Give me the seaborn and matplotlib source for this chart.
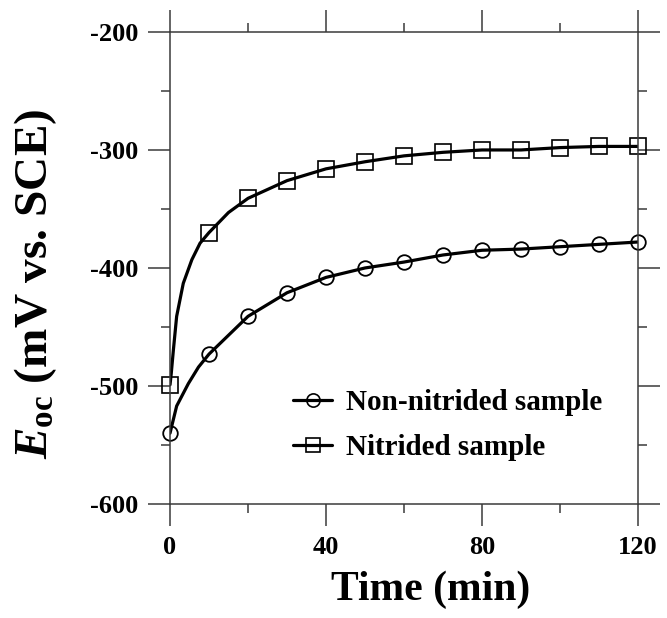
import numpy as np
import pandas as pd
import matplotlib
matplotlib.use("Agg")
import matplotlib.pyplot as plt
from matplotlib.lines import Line2D
from matplotlib.ticker import MultipleLocator
import seaborn as sns

# Marker points (every 10 min)
time_min = [0, 10, 20, 30, 40, 50, 60, 70, 80, 90, 100, 110, 120]
non_nitrided = [-540, -473, -441, -421, -408, -400, -395, -389, -385, -384, -382, -380, -378]
nitrided = [-499, -370, -341, -326, -316, -310, -305, -302, -300, -300, -298, -297, -297]

# Continuous curves (extra points near the start)
non_nitrided_curve_t = [0, 1.7, 4.7, 7.3, 10, 20, 30, 40, 50, 60, 70, 80, 90, 100, 110, 120]
non_nitrided_curve_e = [-540, -517, -498, -484, -473, -441, -421, -408, -400, -395, -389, -385, -384, -382, -380, -378]
nitrided_curve_t = [0, 0.3, 0.85, 1.7, 3.4, 5.6, 7.7, 10, 15, 20, 30, 40, 50, 60, 70, 80, 90, 100, 110, 120]
nitrided_curve_e = [-499, -490, -470, -441, -413, -393, -379, -370, -353, -341, -326, -316, -310, -305, -302, -300, -300, -298, -297, -297]

labels = ["Non-nitrided sample", "Nitrided sample"]

sns.set_theme(style="ticks")
plt.rcParams.update({
    "font.family": ["Liberation Serif", "DejaVu Serif"],
    "font.weight": "bold",
    "text.color": "black",
    "axes.labelcolor": "black",
    "axes.unicode_minus": False,
    "mathtext.fontset": "custom",
    "mathtext.rm": "Liberation Serif:bold",
    "mathtext.it": "Liberation Serif:italic:bold",
    "mathtext.bf": "Liberation Serif:bold",
})

axis_col = "#3a3a3a"

fig = plt.figure(figsize=(6.67, 6.18), dpi=100)
ax = fig.add_axes([0.2549, 0.1845, 0.7016, 0.7638])

curves = pd.concat([
    pd.DataFrame({"t": non_nitrided_curve_t, "e": non_nitrided_curve_e, "s": labels[0]}),
    pd.DataFrame({"t": nitrided_curve_t, "e": nitrided_curve_e, "s": labels[1]}),
])
sns.lineplot(data=curves, x="t", y="e", units="s", estimator=None, sort=False,
             color="black", linewidth=2.3, legend=False, ax=ax)

ax.plot(time_min, non_nitrided, "o", ms=10.5, mfc="none", mec="black", mew=1.3, clip_on=False)
ax.plot(time_min, nitrided, "s", ms=11.5, mfc="none", mec="black", mew=1.2, clip_on=False)

ax.set_xlim(0, 120)
ax.set_ylim(-600, -200)
ax.xaxis.set_major_locator(MultipleLocator(40))
ax.xaxis.set_minor_locator(MultipleLocator(20))
ax.yaxis.set_major_locator(MultipleLocator(100))
ax.yaxis.set_minor_locator(MultipleLocator(50))

for s in ax.spines.values():
    s.set_visible(True)
    s.set_color(axis_col)
    s.set_linewidth(1.1)

ax.tick_params(which="both", direction="out", top=True, right=True, color=axis_col, width=1.1)
ax.tick_params(which="major", length=16, labelsize=19, pad=7, labelcolor="black")
ax.tick_params(which="minor", length=6.5)
for lab in ax.get_xticklabels() + ax.get_yticklabels():
    lab.set_fontweight("bold")

ax.set_xlabel("Time (min)", fontsize=30, fontweight="bold", va="center", color="black")
ax.xaxis.set_label_coords(0.556, -0.182)
ax.set_ylabel(r"$\it{E}_{\rm{oc}}$ (mV vs. SCE)", fontsize=34, fontweight="bold", va="center",
              color="black")
ax.yaxis.set_label_coords(-0.288, 0.466)

handles = [
    Line2D([], [], color="black", lw=2.3, marker="o", ms=9.5, mfc="none", mec="black", mew=1.2),
    Line2D([], [], color="black", lw=2.3, marker="s", ms=9.5, mfc="none", mec="black", mew=1.2),
]
leg = ax.legend(handles, labels, loc="upper left", bbox_to_anchor=(0.263, 0.243), frameon=False,
                borderpad=0, borderaxespad=0, handlelength=1.35, handletextpad=0.45,
                labelspacing=0.62, prop={"size": 21, "weight": "bold"})
for t in leg.get_texts():
    t.set_color("black")

fig.savefig("out.png", dpi=100, facecolor="white")
